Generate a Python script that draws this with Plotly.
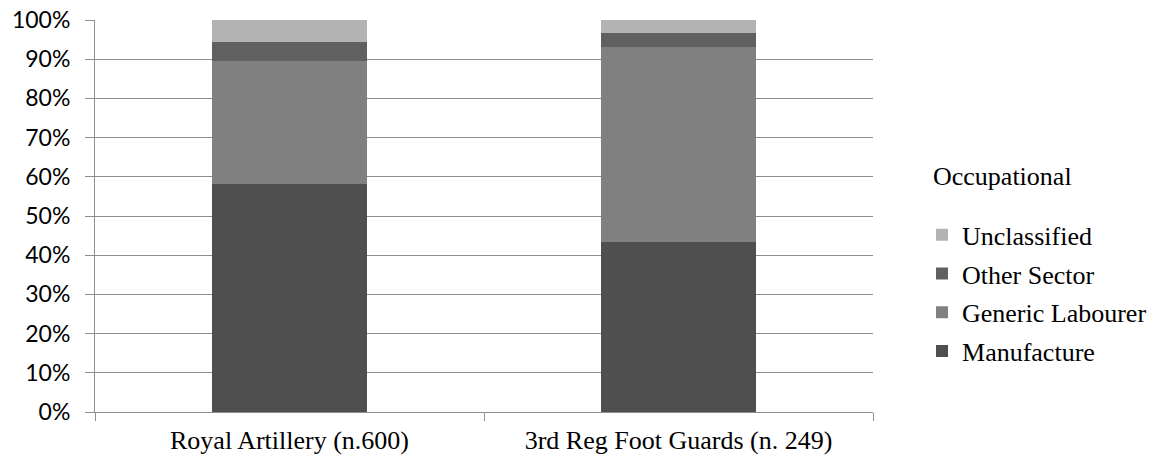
import plotly.graph_objects as go

# Regiments compared and the share of each occupational group (percent of n)
categories = ["Royal Artillery (n.600)", "3rd Reg Foot Guards (n. 249)"]
manufacture = [58.2, 43.4]
generic_labourer = [31.3, 49.8]
other_sector = [5.0, 3.6]
unclassified = [5.5, 3.2]

series = [
    ("Manufacture", manufacture, "#4f4f4f", 4),
    ("Generic Labourer", generic_labourer, "#808080", 3),
    ("Other Sector", other_sector, "#606060", 2),
    ("Unclassified", unclassified, "#b3b3b3", 1),
]

y_ticks = list(range(0, 101, 10))
y_tick_labels = [f"{v}%" for v in y_ticks]

SERIF = "Liberation Serif"
SANS = "Lato"

fig = go.Figure()
for name, values, color, rank in series:
    fig.add_trace(go.Bar(
        x=categories,
        y=values,
        name=name,
        legendgroup=name,
        legendrank=rank,
        marker=dict(color=color, line=dict(width=0)),
        width=0.4,
    ))

grid_color = "#8e8e8e"
fig.update_layout(
    barmode="stack",
    width=1157,
    height=462,
    margin=dict(l=95, r=284, t=20, b=50, autoexpand=False),
    paper_bgcolor="white",
    plot_bgcolor="white",
    font=dict(family=SERIF, color="#000000"),
    showlegend=True,
    legend=dict(
        x=1.063, xanchor="left",
        y=0.512, yanchor="top",
        traceorder="grouped",
        tracegroupgap=2,
        font=dict(family=SERIF, size=26, color="#000000"),
        bgcolor="rgba(0,0,0,0)",
    ),
    annotations=[dict(
        text="Occupational",
        xref="paper", yref="paper",
        x=1.074, y=0.60, xanchor="left", yanchor="middle",
        showarrow=False,
        font=dict(family=SERIF, size=26, color="#000000"),
    )],
    xaxis=dict(
        type="category",
        showline=True, linecolor=grid_color, linewidth=1,
        ticks="outside", ticklen=8, tickcolor=grid_color, tickwidth=1,
        tickson="boundaries",
        showgrid=False,
        ticklabelstandoff=5,
        tickfont=dict(family=SERIF, size=26, color="#000000"),
    ),
    yaxis=dict(
        range=[0, 100],
        tickvals=y_ticks,
        ticktext=y_tick_labels,
        showline=True, linecolor=grid_color, linewidth=1,
        ticks="outside", ticklen=9, tickcolor=grid_color, tickwidth=1,
        showgrid=True, gridcolor=grid_color, gridwidth=1,
        zeroline=False,
        ticklabelstandoff=10,
        tickfont=dict(family=SANS, size=23, color="#000000"),
    ),
)

fig.write_html("out.html")
